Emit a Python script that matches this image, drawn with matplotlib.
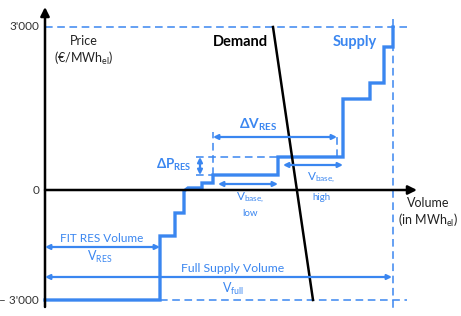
import matplotlib.pyplot as plt

plt.rcParams['font.family'] = ['Lato', 'DejaVu Sans']
plt.rcParams['mathtext.default'] = 'regular'

BLUE = '#3a86f0'

# schematic merit order (volume units, price units; 0 = origin of the axes)
supply_vol = [0, 115, 115, 130, 130, 139, 139, 143, 157, 157, 168, 168, 233, 233,
              298, 298, 325, 325, 339, 339, 348, 348]
supply_price = [-110, -110, -46, -46, -23, -23, -1, 2, 2, 7, 7, 15, 15, 33,
                33, 91, 91, 107, 107, 143, 143, 163]
demand_vol = [228, 268]
demand_price = [163, -110]

price_ticks = [163, 0, -110]
price_tick_labels = ["3'000", "0", "\u2013 3'000"]

v_full = 348
v_res = 115
dv_left, dv_right = 168, 292
dp_low, dp_high = 15, 33

fig = plt.figure(figsize=(4.61, 3.16), dpi=100)
ax = fig.add_axes([0, 0, 1, 1])
ax.set_xlim(-45, 416)
ax.set_ylim(-126, 190)
ax.axis('off')


def darrow(x0, y0, x1, y1):
    ax.annotate('', xy=(x1, y1), xytext=(x0, y0),
                arrowprops=dict(arrowstyle='<|-|>', color=BLUE, lw=1.6,
                                mutation_scale=7, shrinkA=0, shrinkB=0))


# axes arrows
ax.annotate('', xy=(0, 183), xytext=(0, -117),
            arrowprops=dict(arrowstyle='-|>', color='black', lw=1.8,
                            mutation_scale=13, shrinkA=0, shrinkB=0))
ax.annotate('', xy=(372, 0), xytext=(0, 0),
            arrowprops=dict(arrowstyle='-|>', color='black', lw=1.8,
                            mutation_scale=13, shrinkA=0, shrinkB=0))

# dashed bounds
dash = dict(color=BLUE, lw=1.1, ls=(0, (5, 3)))
ax.plot([0, 362], [price_ticks[0], price_ticks[0]], **dash)
ax.plot([v_res, 362], [price_ticks[2], price_ticks[2]], **dash)
ax.plot([v_full, v_full], [171, -122], **dash)
ax.plot([151, 233], [dp_high, dp_high], **dash)
ax.plot([151, 168], [dp_low, dp_low], **dash)
ax.plot([dv_left, dv_left], [dp_low, 58], **dash)
ax.plot([dv_right, dv_right], [dp_high, 57], **dash)

# curves
ax.plot(supply_vol, supply_price, color=BLUE, lw=2.4, solid_joinstyle='miter')
ax.plot(demand_vol, demand_price, color='black', lw=1.8)

# double arrows
darrow(dv_left, 53, dv_right, 53)
darrow(155, dp_low, 155, dp_high)
darrow(173, 6, 233, 6)
darrow(238, 25, 298, 25)
darrow(0, -57, v_res, -57)
darrow(0, -87, v_full - 1, -87)

# tick labels
for p, lab in zip(price_ticks, price_tick_labels):
    ax.text(-6, p, lab, ha='right', va='center', fontsize=8.5, color='#333333')

txt = '#222222'
ax.text(39, 149, 'Price', ha='center', va='center', fontsize=9, color=txt)
ax.text(39, 132, '(\u20ac/MWh$_{el}$)', ha='center', va='center', fontsize=9, color=txt)
ax.text(383, -13, 'Volume', ha='center', va='center', fontsize=9, color=txt)
ax.text(383, -30, '(in MWh$_{el}$)', ha='center', va='center', fontsize=9, color=txt)

ax.text(195, 148, 'Demand', ha='center', va='center', fontsize=10.5, weight='bold', color='black')
ax.text(310, 148, 'Supply', ha='center', va='center', fontsize=10.5, weight='bold', color=BLUE)

ax.text(213, 65, '\u0394V$_{RES}$', ha='center', va='center', fontsize=10, weight='bold', color=BLUE)
ax.text(129, 25, '\u0394P$_{RES}$', ha='center', va='center', fontsize=9.5, weight='bold', color=BLUE)

ax.text(205, -8, 'V$_{base,}$', ha='center', va='center', fontsize=8.5, color=BLUE)
ax.text(205, -23, 'low', ha='center', va='center', fontsize=7, color=BLUE)
ax.text(276, 12, 'V$_{base,}$', ha='center', va='center', fontsize=8.5, color=BLUE)
ax.text(276, -8, 'high', ha='center', va='center', fontsize=7, color=BLUE)

ax.text(57, -48, 'FIT RES Volume', ha='center', va='center', fontsize=8.5, color=BLUE)
ax.text(55, -67, 'V$_{RES}$', ha='center', va='center', fontsize=9, color=BLUE)
ax.text(188, -79, 'Full Supply Volume', ha='center', va='center', fontsize=8.8, color=BLUE)
ax.text(188, -99, 'V$_{full}$', ha='center', va='center', fontsize=9, color=BLUE)

fig.savefig('out.png', dpi=100)
